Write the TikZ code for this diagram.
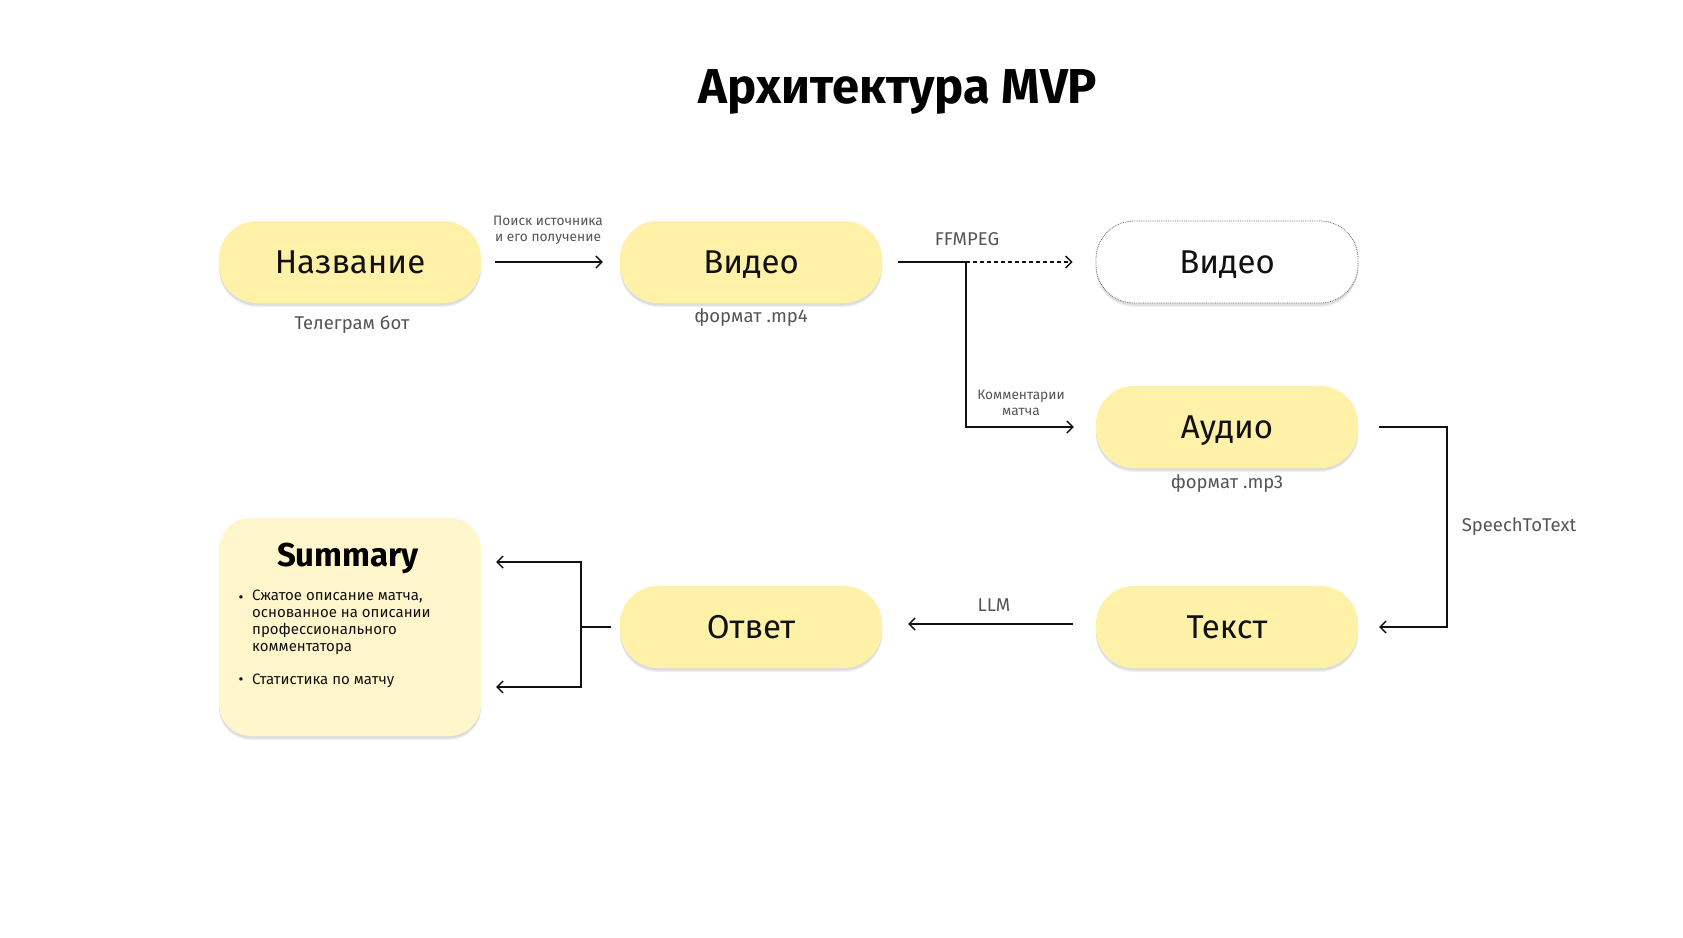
\documentclass[tikz,border=0pt]{standalone}
\usepackage{fontspec}
\setmainfont{Fira Sans}
\usetikzlibrary{arrows.meta,shadows,calc}
\definecolor{pill}{HTML}{FFF1A8}
\definecolor{sumfill}{HTML}{FFF6CC}
\definecolor{lbl}{HTML}{555555}
\definecolor{ink}{HTML}{111111}
\begin{document}
\begin{tikzpicture}[x=1pt,y=-1pt,
  shad/.style={general shadow={shadow xshift=0pt, shadow yshift=-4pt, opacity=0.06, fill=black},
               general shadow={shadow xshift=0pt, shadow yshift=-2.5pt, opacity=0.08, fill=black}},
  pillbox/.style={rectangle, rounded corners=38pt, minimum width=262pt, minimum height=82pt,
    fill=pill, text=ink, font=\fontsize{33}{38}\selectfont, text height=23pt, text depth=0pt, shad},
  ghostbox/.style={pillbox, fill=white, draw=black!60, densely dotted, line width=0.8pt},
  sumbox/.style={rectangle, rounded corners=32pt, minimum width=262pt, minimum height=218pt,
    fill=sumfill, shad},
  sub/.style={text=lbl, font=\fontsize{18.5}{21}\selectfont},
  tiny/.style={text=lbl, font=\fontsize{13.7}{16}\selectfont, align=center},
  bodytxt/.style={text=ink, font=\fontsize{15}{16.9}\selectfont},
  wire/.style={line width=1.4pt, draw=ink},
  arr/.style={wire, -{Straight Barb[length=6pt,width=12pt,line width=1.4pt]}},
]
\useasboundingbox (0,0) rectangle (1683,937);
\fill[white] (0,0) rectangle (1683,937);

\node[font=\fontsize{49}{54}\selectfont\bfseries, text=black] (title) at (898,92) {Архитектура MVP};

\node[pillbox] (naz) at (350,262) {Название};
\node[pillbox] (vid1) at (751,262) {Видео};
\node[ghostbox] (vid2) at (1227,262) {Видео};
\node[pillbox] (aud) at (1227,427) {Аудио};
\node[pillbox] (txt) at (1227,627) {Текст};
\node[pillbox] (otv) at (751,627) {Ответ};
\node[sumbox] (sum) at (350,627) {};

\node[sub] (l1) at (352,325) {Телеграм бот};
\node[sub] (l2) at (751,318) {формат .mp4};
\node[sub] (l3) at (1227,484) {формат .mp3};
\node[tiny] (l4) at (548,230) {Поиск источника\\и его получение};
\node[sub] (l5) at (967,239) {FFMPEG};
\node[tiny] (l6) at (1021,403) {Комментарии\\матча};
\node[sub] (l7) at (1519,527) {SpeechToText};
\node[sub] (l8) at (994,605) {LLM};

\node[font=\fontsize{33}{38}\selectfont\bfseries, text=black] (sumt) at (348,558) {Summary};
\node[bodytxt] (bul1) at (241,599) {•};
\node[bodytxt, anchor=north west, align=left, inner sep=0pt] (bt1) at (252,590)
  {Сжатое описание матча,\\основанное на описании\\профессионального\\комментатора};
\node[bodytxt] (bul2) at (241,681) {•};
\node[bodytxt, anchor=west, inner sep=0pt] (bt2) at (252,681) {Статистика по матчу};

\coordinate (split) at (966,262);
\coordinate (stt) at (1447,527);
\coordinate (jn) at (581,627);

\draw[arr, shorten <=14pt, shorten >=17pt] (naz) -- (vid1);
\draw[wire, shorten <=16pt] (vid1.east) -- (split);
\draw[arr, dashed, dash pattern=on 4pt off 3pt, shorten >=23pt] (split) -- (vid2.west);
\draw[arr, shorten >=22pt] (split) |- (aud.west);
\draw[arr, shorten <=21pt, shorten >=21pt] (aud.east) -- (aud.east -| stt) -- (txt.east -| stt) -- (txt.east);
\draw[arr, shorten <=23pt, shorten >=26pt] ([yshift=3pt]txt.west) -- ([yshift=3pt]otv.east);
\draw[wire, shorten <=9pt] (otv.west) -- (jn);
\draw[arr, shorten >=15pt] (jn) |- ([yshift=65pt]sum.east);
\draw[arr, shorten >=15pt] (jn) |- ([yshift=-60pt]sum.east);
\end{tikzpicture}
\end{document}
